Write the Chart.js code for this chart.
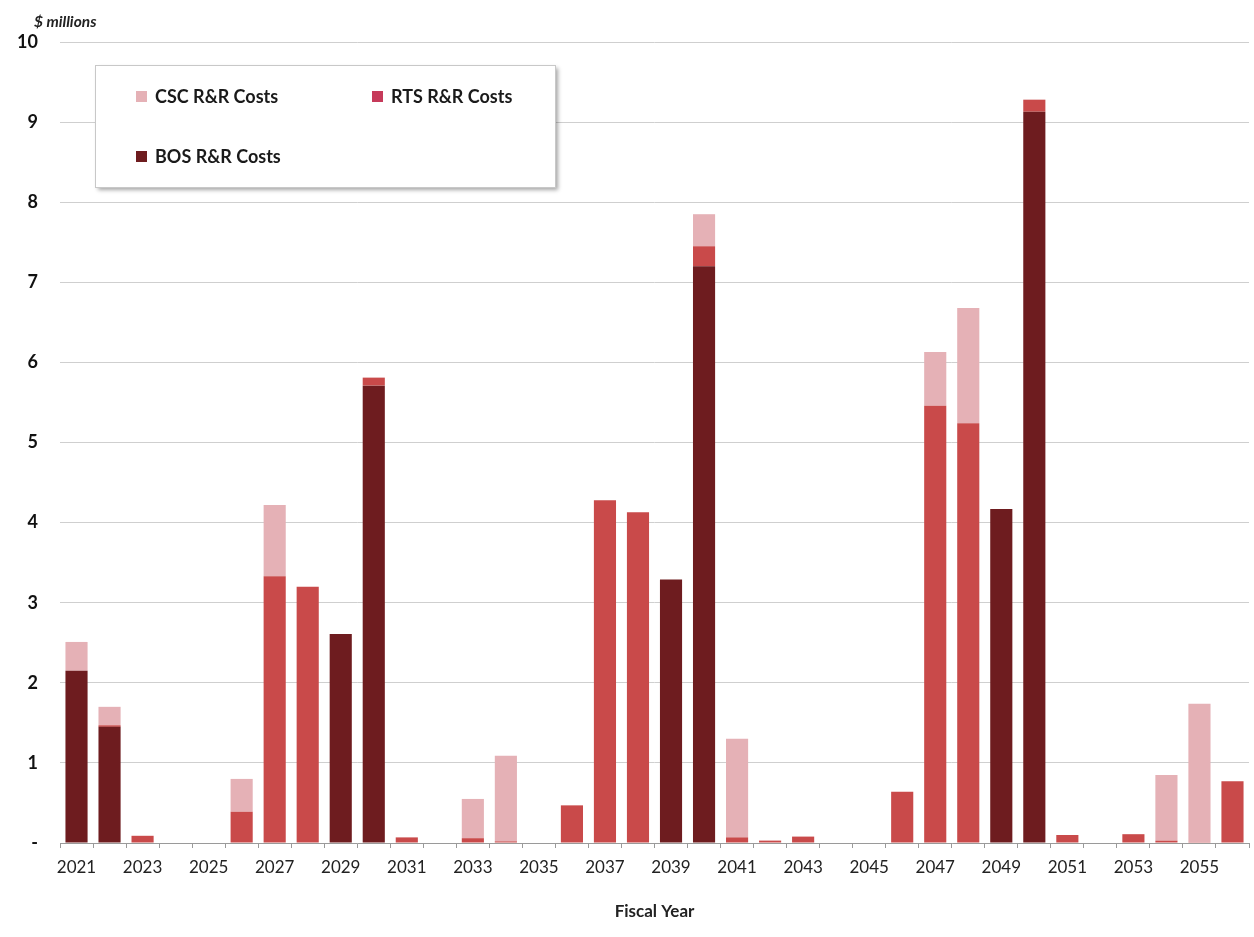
<!DOCTYPE html>
<html>
<head>
<meta charset="utf-8">
<script src="https://cdn.jsdelivr.net/npm/chart.js@4/dist/chart.umd.min.js"></script>
<style>
  html, body { margin: 0; padding: 0; background: #fff; }
  #wrap { width: 1254px; height: 937px; position: relative; }
</style>
</head>
<body>
<div id="wrap"><canvas id="c" width="1254" height="937"></canvas></div>
<script>
// Fiscal years 2021-2056
const years = [];
for (let y = 2021; y <= 2056; y++) years.push(String(y));

// R&R costs, $ millions
const bosCosts = [2.15, 1.45, 0, 0, 0, 0, 0, 0, 2.61, 5.71, 0, 0,
                  0, 0, 0, 0, 0, 0, 3.29, 7.20, 0, 0, 0, 0,
                  0, 0, 0, 0, 4.17, 9.13, 0, 0, 0, 0, 0, 0];
const rtsCosts = [0, 0.02, 0.09, 0, 0, 0.39, 3.33, 3.20, 0, 0.10, 0.07, 0,
                  0.06, 0.02, 0, 0.47, 4.28, 4.13, 0, 0.25, 0.07, 0.03, 0.08, 0,
                  0, 0.64, 5.46, 5.24, 0, 0.15, 0.10, 0, 0.11, 0.03, 0.01, 0.77];
const cscCosts = [0.36, 0.23, 0, 0, 0, 0.41, 0.89, 0, 0, 0, 0, 0,
                  0.49, 1.07, 0, 0, 0, 0, 0, 0.40, 1.23, 0, 0, 0,
                  0, 0, 0.67, 1.44, 0, 0, 0, 0, 0, 0.82, 1.73, 0];

const yTicks = [0, 1, 2, 3, 4, 5, 6, 7, 8, 9, 10];

const colBOS = '#6e1c1f';
const colRTS = '#c94a4a';
const colRTSKey = '#c63a5a';
const colCSC = '#e5b1b6';

const FONT = 'Lato, "Open Sans", sans-serif';

// Boxed legend with drop shadow, plus the unit caption above the value axis
const overlay = {
  id: 'overlay',
  afterDatasetsDraw(chart) {
    const ctx = chart.ctx;
    const ca = chart.chartArea;
    ctx.save();
    // unit caption
    ctx.font = 'italic bold 15.5px ' + FONT;
    ctx.fillStyle = '#222';
    ctx.textBaseline = 'middle';
    ctx.textAlign = 'left';
    ctx.fillText('$ millions', ca.left - 26, ca.top - 20);

    // legend box
    const bx = 95, by = 65, bw = 460, bh = 122;
    ctx.shadowColor = 'rgba(0,0,0,0.35)';
    ctx.shadowBlur = 4;
    ctx.shadowOffsetX = 3;
    ctx.shadowOffsetY = 3;
    ctx.fillStyle = '#fff';
    ctx.fillRect(bx, by, bw, bh);
    ctx.shadowColor = 'transparent';
    ctx.strokeStyle = '#c8c8c8';
    ctx.lineWidth = 1;
    ctx.strokeRect(bx + 0.5, by + 0.5, bw, bh);

    const items = [
      { text: chart.data.datasets[2].label, color: colCSC, x: 136, y: 97 },
      { text: chart.data.datasets[1].label, color: colRTSKey, x: 372, y: 97 },
      { text: chart.data.datasets[0].label, color: colBOS, x: 136, y: 157 }
    ];
    ctx.font = 'bold 18px ' + FONT;
    items.forEach(it => {
      ctx.fillStyle = it.color;
      ctx.fillRect(it.x, it.y - 6, 11, 11);
      ctx.fillStyle = '#1a1a1a';
      ctx.fillText(it.text, it.x + 19, it.y);
    });
    ctx.restore();
  }
};

new Chart(document.getElementById('c'), {
  type: 'bar',
  data: {
    labels: years,
    datasets: [
      { label: 'BOS R&R Costs', data: bosCosts, backgroundColor: colBOS },
      { label: 'RTS R&R Costs', data: rtsCosts, backgroundColor: colRTS },
      { label: 'CSC R&R Costs', data: cscCosts, backgroundColor: colCSC }
    ]
  },
  options: {
    responsive: false,
    animation: false,
    layout: { padding: { top: 42, right: 5, bottom: 0, left: 0 } },
    datasets: { bar: { categoryPercentage: 1, barPercentage: 0.67, borderWidth: 0 } },
    plugins: {
      legend: { display: false },
      tooltip: { enabled: false }
    },
    scales: {
      x: {
        stacked: true,
        afterFit(scale) { scale.height = 94; },
        grid: {
          offset: true,
          drawOnChartArea: false,
          drawTicks: true,
          tickLength: 5,
          color: '#9a9a9a'
        },
        border: { display: true, color: '#9a9a9a', width: 1 },
        ticks: {
          autoSkip: false,
          maxRotation: 0,
          padding: 9,
          color: '#222',
          font: { family: FONT, size: 17 },
          callback(v, i) { return i % 2 === 0 ? this.getLabelForValue(v) : ''; }
        },
        title: {
          display: true,
          text: 'Fiscal Year',
          color: '#222',
          font: { family: FONT, size: 17, weight: 'bold' },
          padding: { top: 0, bottom: 15 }
        }
      },
      y: {
        stacked: true,
        min: 0,
        max: 10,
        afterFit(scale) { scale.width = 60; },
        afterBuildTicks(scale) { scale.ticks = yTicks.map(v => ({ value: v })); },
        grid: { drawTicks: false, color: '#cfcfcf', lineWidth: 1 },
        border: { display: false },
        ticks: {
          padding: 22,
          color: '#111',
          font: { family: FONT, size: 18, weight: 'bold' },
          callback(v) { return v === 0 ? '-' : String(v); }
        }
      }
    }
  },
  plugins: [overlay]
});
</script>
</body>
</html>
